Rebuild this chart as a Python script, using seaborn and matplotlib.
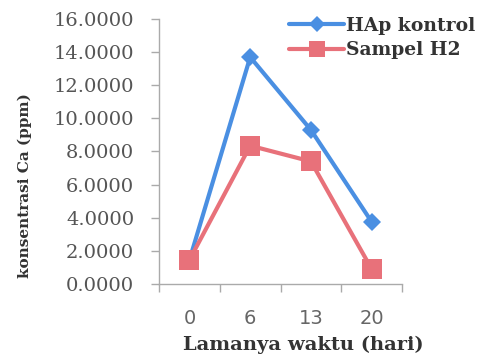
import matplotlib
matplotlib.use("Agg")
import matplotlib.pyplot as plt
from matplotlib.lines import Line2D
from matplotlib.transforms import ScaledTranslation
import seaborn as sns
import pandas as pd
import numpy as np

# Ca concentration released over time
days = ["0", "6", "13", "20"]
hap_kontrol = [1.45, 13.70, 9.30, 3.75]
sampel_h2 = [1.45, 8.35, 7.40, 0.90]
series_names = ["HAp kontrol", "Sampel H2"]
y_ticks = [0, 2, 4, 6, 8, 10, 12, 14, 16]

df = pd.DataFrame({
    "pos": list(range(len(days))) * 2,
    "ca": hap_kontrol + sampel_h2,
    "series": [series_names[0]] * len(days) + [series_names[1]] * len(days),
})

sns.set_theme(style="white")
serif = ["DejaVu Serif", "Liberation Serif"]
plt.rcParams["font.family"] = serif

fig = plt.figure(figsize=(4.85, 3.62), dpi=100)
ax = fig.add_axes([0.328, 0.2155, 0.501, 0.732])

blue = "#4A8FE2"
red = "#E8717A"
sns.lineplot(data=df, x="pos", y="ca", hue="series", style="series",
             palette={series_names[0]: blue, series_names[1]: red},
             markers={series_names[0]: "D", series_names[1]: "s"},
             dashes=False, linewidth=3, ax=ax, legend=False)
for ln, ms in zip(ax.lines, [9.5, 14]):
    ln.set_markersize(ms)
    ln.set_markeredgewidth(0)

for side in ["top", "right"]:
    ax.spines[side].set_visible(False)
for side in ["left", "bottom"]:
    ax.spines[side].set_color("#aaaaaa")
    ax.spines[side].set_linewidth(1)

ax.set_xlabel("Lamanya waktu (hari)", fontsize=14, fontweight="bold",
              color="#333333")
ax.xaxis.set_label_coords(0.593, -0.195)
ax.set_ylabel("konsentrasi Ca (ppm)", fontsize=11, fontweight="bold",
              color="#333333")
ax.yaxis.set_label_coords(-0.525, 0.37)

# axis limits, ticks and tick labels
ax.set_xlim(-0.5, len(days) - 0.5)
ax.set_ylim(0, 16)
ax.set_yticks(y_ticks)
ax.set_yticklabels([f"{v:.4f}" for v in y_ticks], fontsize=14,
                   color="#555555")
ax.tick_params(axis="y", length=6, width=1, color="#aaaaaa",
               direction="out", left=True, pad=12)
ax.set_xticks(range(len(days)))
ax.set_xticklabels(days, fontsize=14, color="#666666",
                   family=["DejaVu Sans"])
ax.set_xticks(np.arange(-0.5, len(days), 1.0), minor=True)
ax.tick_params(axis="x", which="minor", length=6, width=1, color="#aaaaaa",
               direction="out", bottom=True)
ax.tick_params(axis="x", which="major", length=0, pad=18)

handles = [
    Line2D([], [], color=blue, lw=3, marker="D", markersize=8, markeredgewidth=0),
    Line2D([], [], color=red, lw=3, marker="s", markersize=12, markeredgewidth=0),
]
fig.legend(handles, series_names, loc="upper left", bbox_to_anchor=(0.562, 1.0),
           frameon=False, prop={"family": serif, "weight": "bold", "size": 13.5},
           handlelength=2.9, handletextpad=0.1,
           labelspacing=0.35, borderaxespad=0.5, labelcolor="#333333")

# keep the day labels well below the axis line (about 25 px gap)
fig.canvas.draw()
renderer = fig.canvas.get_renderer()
axis_bottom = ax.get_window_extent(renderer).y0
label_top = max(l.get_window_extent(renderer).y1 for l in ax.get_xticklabels())
gap = axis_bottom - label_top
wanted_gap = 25
if gap < wanted_gap - 2:
    shift = ScaledTranslation(0, -(wanted_gap - gap) / fig.dpi, fig.dpi_scale_trans)
    for l in ax.get_xticklabels():
        l.set_transform(l.get_transform() + shift)

fig.savefig("out.png", dpi=100)
